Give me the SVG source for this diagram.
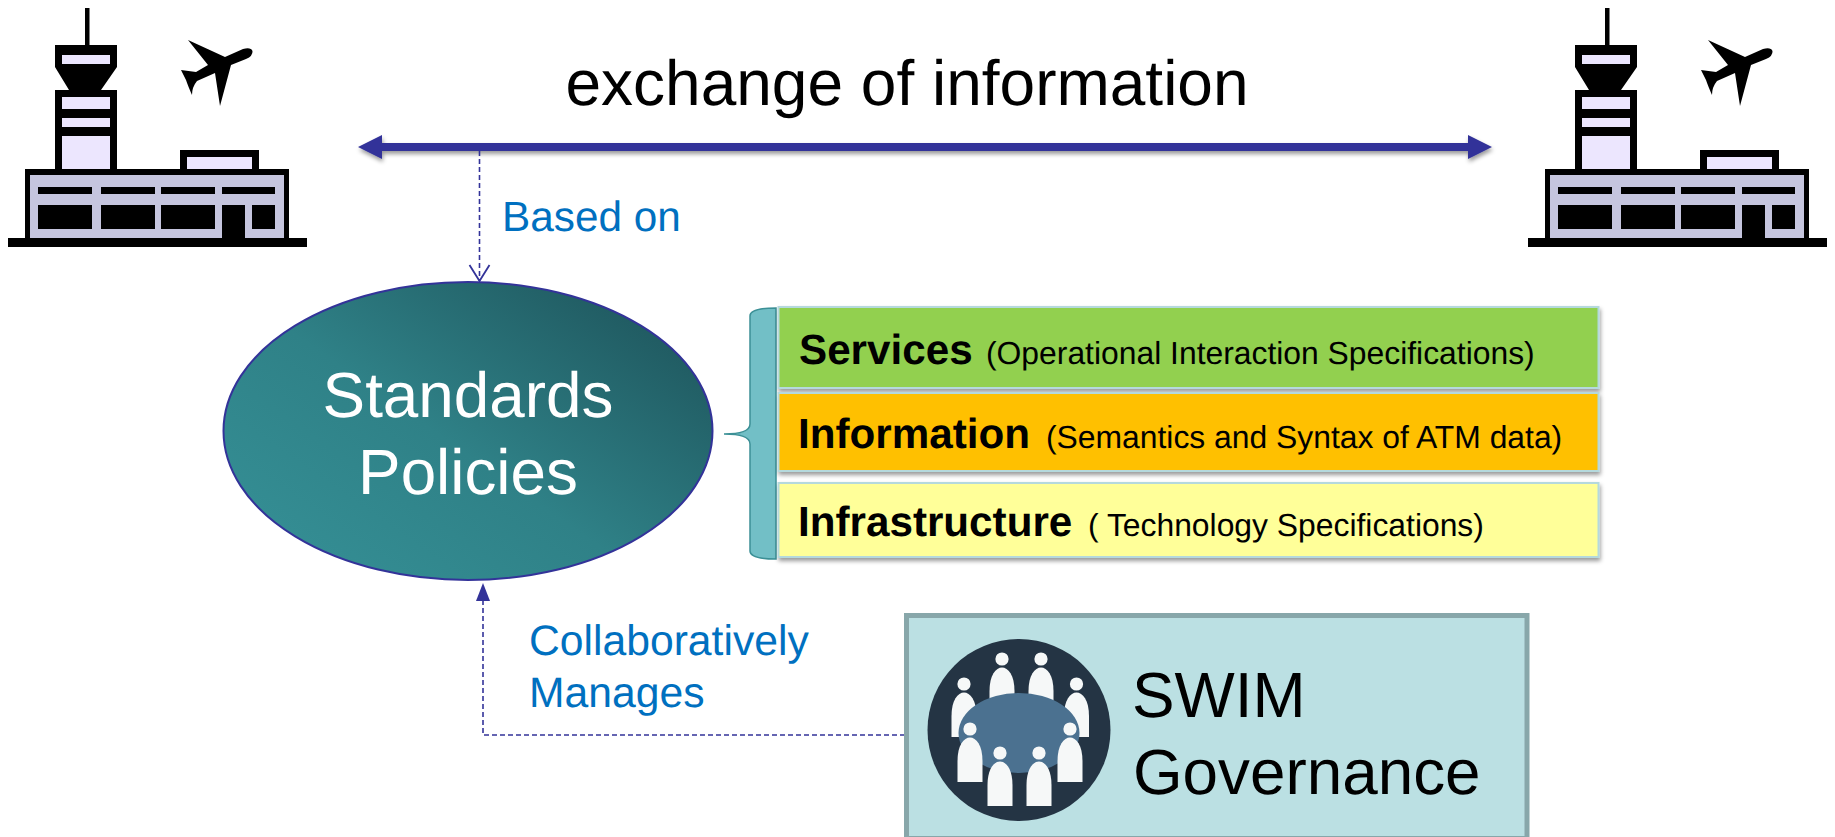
<svg xmlns="http://www.w3.org/2000/svg" width="1835" height="837" viewBox="0 0 1835 837">
<style>
text{font-family:"Liberation Sans",Arial,sans-serif;fill:#000;text-rendering:geometricPrecision}
.blue{fill:#0070c0;font-size:42.300px}
.b{font-weight:bold;font-size:42.200px}
.s{font-size:31.850px}
.w{fill:#fff;font-size:63.800px;text-anchor:middle}
.g{font-size:63.800px}
.lt{fill:#ece6fe}
.k{fill:#000}
.dash{fill:none;stroke:#333399;stroke-width:1.6;stroke-dasharray:5 3}
.tier{stroke:#b5d9dd;stroke-width:2;filter:url(#sh)}
.pw{fill:#f6f8f8}
</style>
<defs>
<linearGradient id="eg" x1="0.1" y1="0.85" x2="0.9" y2="0.15">
<stop offset="0" stop-color="#348d93"/><stop offset="0.45" stop-color="#2f8187"/><stop offset="1" stop-color="#205a61"/>
</linearGradient>
<filter id="sh" x="-5%" y="-20%" width="110%" height="150%"><feDropShadow dx="1" dy="3" stdDeviation="2" flood-color="#000" flood-opacity="0.4"/></filter>
<marker id="open" markerUnits="userSpaceOnUse" markerWidth="24" markerHeight="20" refX="11" refY="17" orient="0" overflow="visible"><path d="M1 1L11 17L21 1" fill="none" stroke="#333399" stroke-width="1.8"/></marker>
<g id="airport">
<rect class="k" x="85" y="8" width="4.500" height="38"/>
<path class="k" d="M55 45H117V67L101 90H117V169H55V90H69L55 67Z"/>
<rect class="lt" x="62" y="55" width="48" height="9"/>
<rect class="lt" x="62" y="97" width="48" height="12"/>
<rect class="lt" x="62" y="118" width="48" height="9"/>
<rect class="lt" x="62" y="136" width="48" height="33"/>
<rect class="k" x="180" y="150" width="79" height="20"/>
<rect class="lt" x="187" y="157" width="65" height="12"/>
<rect class="k" x="25" y="169" width="264" height="70"/>
<rect x="30" y="175" width="254" height="64" fill="#c5c5de"/>
<path class="k" d="M38 187h54v7h-54zM101 187h54v7h-54zM161 187h54v7h-54zM222 187h53v7h-53zM38 205h54v24h-54zM101 205h54v24h-54zM161 205h54v24h-54zM222 205h23v34h-23zM252 205h23v24h-23z"/>
<rect class="k" x="8" y="238" width="299" height="9"/>
<path class="k" d="M188 40L225 57L243 49Q251 47 252.500 51Q253 56 246 59L231 65L220 106L215 73L197 81Q192 87 192 95Q188 86 186 80L181 70L196 72L208 65Z"/>
</g>
<g id="person"><circle cx="0" cy="0" r="6.600"/><path d="M-12.500 53V32C-12.500 16 -6 8.500 0 8.500C6 8.500 12.500 16 12.500 32V53Z"/></g>
</defs>

<g id="connectors">
<g filter="url(#sh)"><path d="M358 147L382 135V143H1468V135L1492 147L1468 159V151H382V159Z" fill="#333399"/></g>
<path class="dash" d="M479.500 151V281" marker-end="url(#open)"/>
<path class="dash" d="M905 735H483V596"/>
<path d="M483 583L476 601H490Z" fill="#333399"/>
</g>

<g id="airport-left"><use href="#airport"/></g>
<g id="airport-right"><use href="#airport" x="1520"/></g>

<g id="exchange-label"><text x="907" y="105" font-size="64" text-anchor="middle">exchange of information</text></g>
<g id="based-on-label"><text class="blue" x="502" y="231">Based on</text></g>

<g id="standards-policies">
<ellipse cx="468" cy="431" rx="244.500" ry="149" fill="url(#eg)" stroke="#333399" stroke-width="2"/>
<text class="w" x="468" y="417">Standards</text>
<text class="w" x="468" y="494">Policies</text>
</g>

<g id="brace"><path d="M776 308C758 308 750 311 750 316V424C750 431 742 434 724 434C742 434 750 437 750 444V551C750 556 758 559 776 559Z" fill="#72bfc6" stroke="#3c9096" stroke-width="1.500"/></g>

<g id="services">
<rect class="tier" x="778.500" y="307" width="820" height="81" fill="#92d050"/>
<text class="b" x="799" y="364">Services</text>
<text class="s" x="986" y="364">(Operational Interaction Specifications)</text>
</g>
<g id="information">
<rect class="tier" x="778.500" y="393" width="820" height="78" fill="#ffc000"/>
<text class="b" x="798" y="448">Information</text>
<text class="s" x="1046" y="448">(Semantics and Syntax of ATM data)</text>
</g>
<g id="infrastructure">
<rect class="tier" x="778.500" y="483" width="820" height="74" fill="#ffff99"/>
<text class="b" x="798" y="536">Infrastructure</text>
<text class="s" x="1088" y="536">( Technology Specifications)</text>
</g>

<g id="collab-label">
<text class="blue" x="529" y="655" style="font-size:42.670px">Collaboratively</text>
<text class="blue" x="529" y="707" style="font-size:42.670px">Manages</text>
</g>

<g id="swim-governance">
<rect x="906.500" y="615.500" width="620.500" height="223" fill="#bbe0e3" stroke="#88a7aa" stroke-width="5"/>
<ellipse cx="1019" cy="730" rx="91.500" ry="91" fill="#243444"/>
<g class="pw">
<use href="#person" x="1002" y="659"/>
<use href="#person" x="1041" y="659"/>
<use href="#person" x="964" y="684"/>
<use href="#person" x="1076.500" y="684"/>
</g>
<ellipse cx="1019" cy="733" rx="60.500" ry="40" fill="#4b7190"/>
<g class="pw">
<use href="#person" x="970" y="729"/>
<use href="#person" x="1070" y="729"/>
<use href="#person" x="1000" y="753"/>
<use href="#person" x="1039" y="753"/>
</g>
<text class="g" x="1132" y="717">SWIM</text>
<text class="g" x="1133" y="794">Governance</text>
</g>
</svg>
